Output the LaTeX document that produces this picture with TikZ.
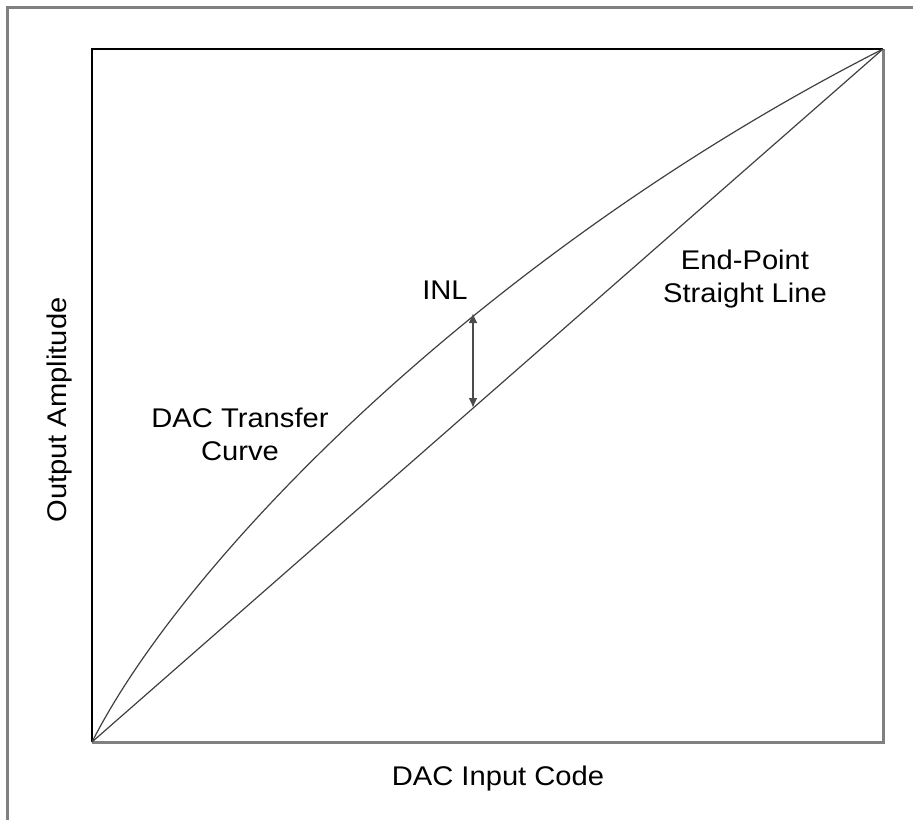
\documentclass[tikz,border=0pt]{standalone}
\usepackage{fontspec}
\setmainfont{Liberation Sans}[FakeStretch=1.08]
\usetikzlibrary{arrows.meta,calc}

\begin{document}
\begin{tikzpicture}[x=0.5pt,y=-0.5pt,>={Latex[length=5pt,width=4.5pt]},
            frame/.style={draw=gray,line width=1.5pt},
            trace/.style={draw=black!75,line width=0.6pt},
            label text/.style={font=\fontsize{13.5}{16.5}\selectfont,align=center}]

        \useasboundingbox (0,0) rectangle (923,820);

        % outer frame (only top and left edge show)
        \draw[frame] (913,7) -- (7,7) -- (7,820);

        \coordinate (O) at (92,742);
        \coordinate (E) at (883,49);

        % plot area
        \draw[frame] (O) -| (E);
        \draw[black,line width=0.9pt] (O) |- (E);

        \draw[trace] (O) -- (E);
        \draw[trace] (O) .. controls (187,555) and (488,250) .. (E);

        \coordinate (inltop) at (473,313);
        \coordinate (inlbot) at (473,408);
        \draw[<->,line width=1pt,black!70] (inltop) -- (inlbot);

        \node[label text] (inl) at (445,290) {INL};
        \node[label text] (curve) at (240,434) {DAC Transfer\\Curve};
        \node[label text] (line) at (745,279) {End-Point\\Straight Line};
        \node[label text] (xlab) at (498,779) {DAC Input Code};
        \node[label text,rotate=90] (ylab) at (60,410) {Output Amplitude};

    \end{tikzpicture}
\end{document}
